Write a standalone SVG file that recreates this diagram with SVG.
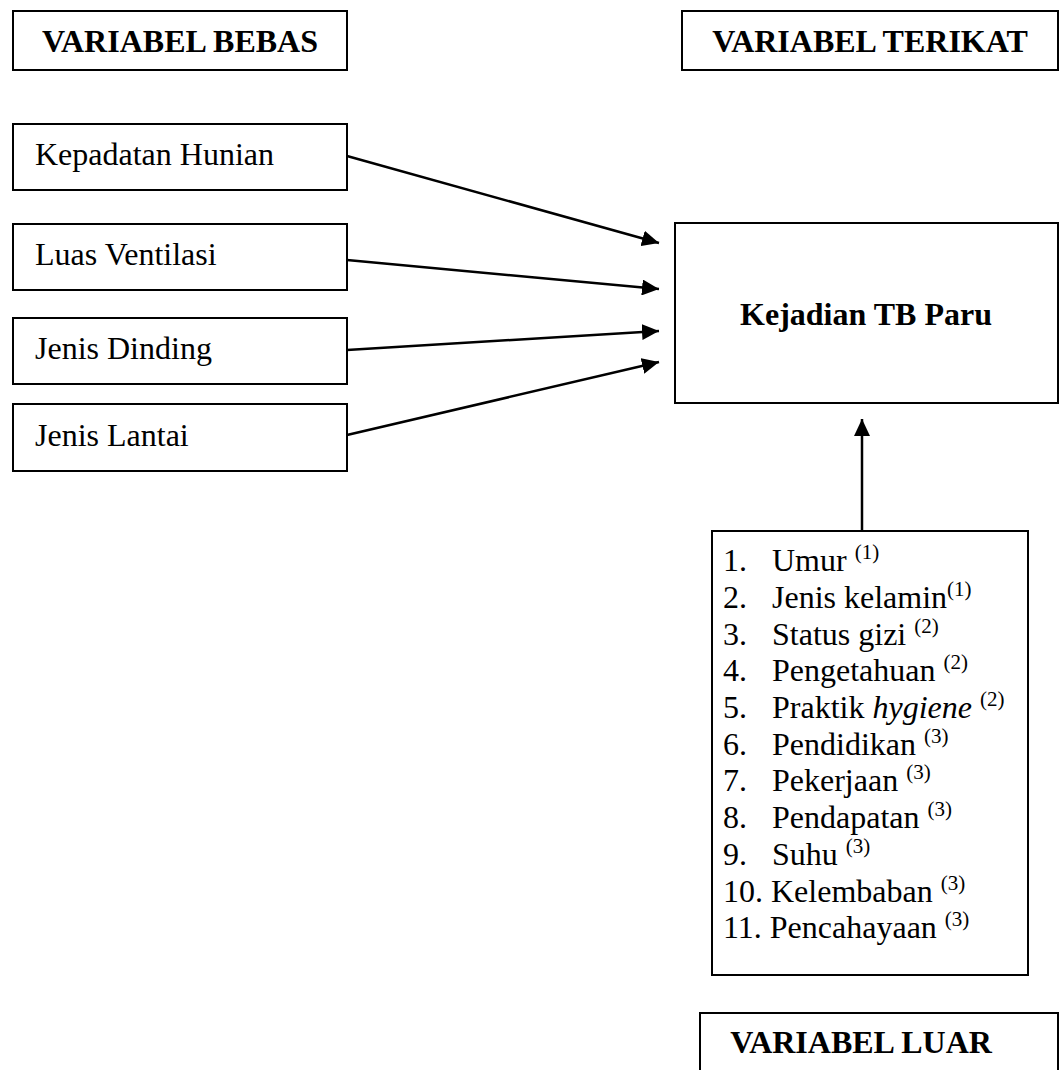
<svg xmlns="http://www.w3.org/2000/svg" width="1061" height="1070" viewBox="0 0 1061 1070">
<defs>
<style>
.box{fill:#fff;stroke:#000;stroke-width:2}
.t{font-family:"Liberation Serif","Times New Roman",serif;font-size:32px;fill:#000}
.b{font-weight:bold}
.c{text-anchor:middle}
.sup{font-size:21px}
.edge{stroke:#000;stroke-width:2.5;fill:none;marker-end:url(#ah)}
</style>
<marker id="ah" markerUnits="userSpaceOnUse" markerWidth="18" markerHeight="16" refX="17" refY="8" orient="auto">
<path d="M0,0 L17,8 L0,16 Z" fill="#000"/>
</marker>
</defs>
<rect width="1061" height="1070" fill="#fff"/>
<g id="connectors">
<line class="edge" x1="347" y1="156" x2="659" y2="243"/>
<line class="edge" x1="347" y1="260" x2="659" y2="289"/>
<line class="edge" x1="347" y1="350" x2="659" y2="331"/>
<line class="edge" x1="347" y1="435" x2="659" y2="362"/>
<line class="edge" x1="862" y1="531" x2="862" y2="419"/>
</g>
<g id="variabel-bebas">
<rect class="box" x="13" y="11" width="334" height="59"/>
<text class="t b c" x="180" y="52">VARIABEL BEBAS</text>
</g>
<g id="variabel-terikat">
<rect class="box" x="682" y="11" width="376" height="59"/>
<text class="t b c" x="870" y="52">VARIABEL TERIKAT</text>
</g>
<g id="kepadatan-hunian">
<rect class="box" x="13" y="124" width="334" height="66"/>
<text class="t" x="35" y="165">Kepadatan Hunian</text>
</g>
<g id="luas-ventilasi">
<rect class="box" x="13" y="224" width="334" height="66"/>
<text class="t" x="35" y="265">Luas Ventilasi</text>
</g>
<g id="jenis-dinding">
<rect class="box" x="13" y="318" width="334" height="66"/>
<text class="t" x="35" y="359">Jenis Dinding</text>
</g>
<g id="jenis-lantai">
<rect class="box" x="13" y="404" width="334" height="67"/>
<text class="t" x="35" y="446">Jenis Lantai</text>
</g>
<g id="kejadian-tb-paru">
<rect class="box" x="675" y="223" width="383" height="180"/>
<text class="t b c" x="866" y="325">Kejadian TB Paru</text>
</g>
<g id="variabel-luar-list">
<rect class="box" x="712" y="531" width="316" height="444"/>
<text class="t" x="723" y="571">1.</text><text class="t" x="772" y="571">Umur <tspan class="sup" dy="-12">(1)</tspan></text>
<text class="t" x="723" y="608">2.</text><text class="t" x="772" y="608">Jenis kelamin<tspan class="sup" dy="-12">(1)</tspan></text>
<text class="t" x="723" y="645">3.</text><text class="t" x="772" y="645">Status gizi <tspan class="sup" dy="-12">(2)</tspan></text>
<text class="t" x="723" y="681">4.</text><text class="t" x="772" y="681">Pengetahuan <tspan class="sup" dy="-12">(2)</tspan></text>
<text class="t" x="723" y="718">5.</text><text class="t" x="772" y="718">Praktik <tspan font-style="italic">hygiene</tspan> <tspan class="sup" dy="-12">(2)</tspan></text>
<text class="t" x="723" y="755">6.</text><text class="t" x="772" y="755">Pendidikan <tspan class="sup" dy="-12">(3)</tspan></text>
<text class="t" x="723" y="791">7.</text><text class="t" x="772" y="791">Pekerjaan <tspan class="sup" dy="-12">(3)</tspan></text>
<text class="t" x="723" y="828">8.</text><text class="t" x="772" y="828">Pendapatan <tspan class="sup" dy="-12">(3)</tspan></text>
<text class="t" x="723" y="865">9.</text><text class="t" x="772" y="865">Suhu <tspan class="sup" dy="-12">(3)</tspan></text>
<text class="t" x="723" y="902">10. Kelembaban <tspan class="sup" dy="-12">(3)</tspan></text>
<text class="t" x="723" y="938">11. Pencahayaan <tspan class="sup" dy="-12">(3)</tspan></text>
</g>
<g id="variabel-luar">
<rect class="box" x="700" y="1013" width="358" height="70"/>
<text class="t b c" x="861" y="1053">VARIABEL LUAR</text>
</g>
</svg>
